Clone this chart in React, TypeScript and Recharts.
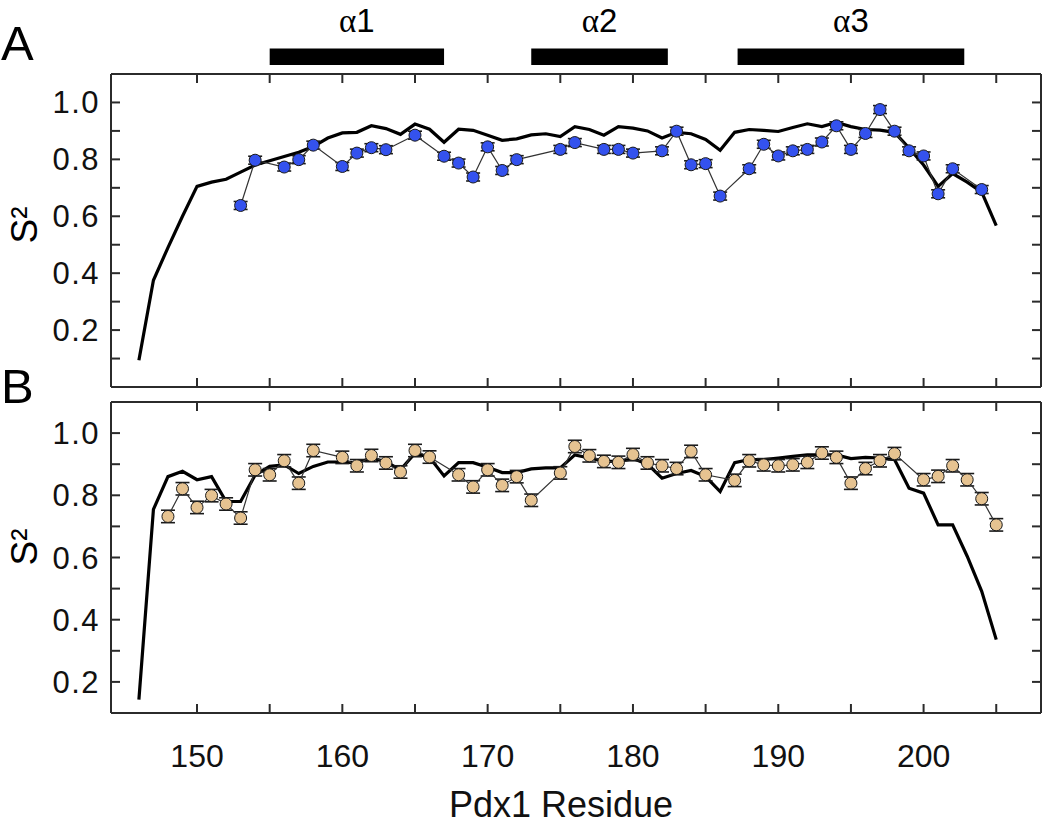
import { ComposedChart, ErrorBar, Line, ReferenceArea, XAxis, YAxis } from 'recharts'

// residues covered by the model curve (both panels)
const modelResidues = [
  146, 147, 148, 149, 150, 151, 152, 153, 154, 155, 156, 157, 158, 159, 160, 161, 162, 163, 164, 165,
  166, 167, 168, 169, 170, 171, 172, 173, 174, 175, 176, 177, 178, 179, 180, 181, 182, 183, 184, 185,
  186, 187, 188, 189, 190, 191, 192, 193, 194, 195, 196, 197, 198, 199, 200, 201, 202, 203, 204, 205,
]

const modelA = [
  0.094, 0.375, 0.49, 0.6, 0.705, 0.72, 0.73, 0.755, 0.78, 0.795, 0.81, 0.825, 0.845, 0.875, 0.893,
  0.895, 0.918, 0.908, 0.888, 0.924, 0.906, 0.86, 0.906, 0.902, 0.885, 0.867, 0.872, 0.886, 0.89, 0.88,
  0.915, 0.905, 0.885, 0.915, 0.91, 0.9, 0.875, 0.895, 0.89, 0.87, 0.832, 0.895, 0.905, 0.902, 0.898,
  0.912, 0.925, 0.915, 0.93, 0.915, 0.905, 0.903, 0.895, 0.84, 0.78, 0.705, 0.75, 0.72, 0.685, 0.567,
]

const modelB = [
  0.143, 0.755, 0.86, 0.877, 0.85, 0.86, 0.78, 0.78, 0.865, 0.893, 0.898, 0.87, 0.893, 0.907, 0.907,
  0.904, 0.92, 0.908, 0.882, 0.935, 0.922, 0.862, 0.905, 0.905, 0.89, 0.873, 0.873, 0.885, 0.888, 0.888,
  0.93, 0.92, 0.91, 0.908, 0.918, 0.9, 0.855, 0.87, 0.88, 0.86, 0.812, 0.905, 0.915, 0.915, 0.92,
  0.925, 0.93, 0.93, 0.93, 0.918, 0.922, 0.92, 0.915, 0.823, 0.807, 0.705, 0.705, 0.604, 0.491, 0.336,
]

// experimental S2 (panel A)
const expResA = [
  153, 154, 156, 157, 158, 160, 161, 162, 163, 165, 167, 168, 169, 170, 171, 172, 175, 176, 178, 179,
  180, 182, 183, 184, 185, 186, 188, 189, 190, 191, 192, 193, 194, 195, 196, 197, 198, 199, 200, 201,
  202, 204,
]
const expA = [
  0.638, 0.797, 0.773, 0.799, 0.85, 0.775, 0.822, 0.841, 0.834, 0.885, 0.811, 0.787, 0.738, 0.844,
  0.761, 0.799, 0.835, 0.859, 0.835, 0.835, 0.822, 0.83, 0.899, 0.781, 0.785, 0.671, 0.767, 0.853,
  0.812, 0.83, 0.835, 0.861, 0.918, 0.835, 0.891, 0.975, 0.899, 0.83, 0.812, 0.679, 0.767, 0.694,
]
const errA = 0.014

// experimental S2 (panel B)
const expResB = [
  148, 149, 150, 151, 152, 153, 154, 155, 156, 157, 158, 160, 161, 162, 163, 164, 165, 166, 168, 169,
  170, 171, 172, 173, 175, 176, 177, 178, 179, 180, 181, 182, 183, 184, 185, 187, 188, 189, 190, 191,
  192, 193, 194, 195, 196, 197, 198, 200, 201, 202, 203, 204, 205,
]
const expB = [
  0.732, 0.821, 0.761, 0.799, 0.772, 0.727, 0.882, 0.866, 0.911, 0.839, 0.944, 0.922, 0.895, 0.928,
  0.904, 0.875, 0.944, 0.923, 0.866, 0.827, 0.882, 0.832, 0.86, 0.784, 0.872, 0.957, 0.927, 0.909,
  0.906, 0.931, 0.904, 0.895, 0.886, 0.941, 0.866, 0.848, 0.911, 0.898, 0.895, 0.898, 0.906, 0.936,
  0.922, 0.839, 0.886, 0.911, 0.934, 0.85, 0.861, 0.895, 0.85, 0.789, 0.705,
]
const errB = 0.02

// helices drawn above panel A
const helixNames = ['1', '2', '3']
const helixStart = [155, 173, 187.2]
const helixEnd = [167, 182.4, 202.8]

const xTicks = [150, 155, 160, 165, 170, 175, 180, 185, 190, 195, 200, 205]
const yTicksA = [0.1, 0.2, 0.3, 0.4, 0.5, 0.6, 0.7, 0.8, 0.9, 1.0]
const yTicksB = [0.2, 0.3, 0.4, 0.5, 0.6, 0.7, 0.8, 0.9, 1.0]

const model = (vals: number[]) => modelResidues.map((r, i) => ({ r, s2: vals[i] }))
const points = (res: number[], vals: number[], err: number) =>
  res.map((r, i) => ({ r, s2: vals[i], err }))

const FONT = '"Liberation Sans", Arial, Helvetica, sans-serif'
const AXIS = '#2b2b2b'
const X_DOMAIN: [number, number] = [144.08, 208.08]

const xLabel = (v: number) => (v % 10 === 0 ? String(v) : '')
const yLabel = (v: number) => {
  const t = Math.round(v * 10)
  return t % 2 === 0 ? (t / 10).toFixed(1) : ''
}

function HelixLabel({ viewBox, name }: any) {
  const { x, y, width } = viewBox
  return (
    <text x={x + width / 2} y={y - 16} textAnchor="middle" fontSize={33} fill="#000">
      <tspan fontFamily='"Liberation Serif", "Times New Roman", serif'>α</tspan>
      <tspan fontFamily={FONT}>{name}</tspan>
    </text>
  )
}

function Frame({ yDomain, yTicks, showX }: { yDomain: [number, number]; yTicks: number[]; showX: boolean }) {
  const line = { stroke: AXIS, strokeWidth: 2 }
  return [
    <XAxis
      key="xb"
      xAxisId="b"
      type="number"
      dataKey="r"
      domain={X_DOMAIN}
      allowDataOverflow
      ticks={xTicks}
      tickSize={-9}
      tickMargin={40}
      tickFormatter={showX ? xLabel : () => ''}
      height={showX ? 50 : 1}
      axisLine={line}
      tickLine={line}
      tick={{ fontSize: 32, fill: '#111', fontFamily: FONT }}
    />,
    <XAxis
      key="xt"
      xAxisId="t"
      orientation="top"
      type="number"
      dataKey="r"
      domain={X_DOMAIN}
      allowDataOverflow
      ticks={xTicks}
      tickSize={-9}
      tickFormatter={() => ''}
      height={1}
      axisLine={line}
      tickLine={line}
    />,
    <YAxis
      key="yl"
      yAxisId="l"
      type="number"
      domain={yDomain}
      allowDataOverflow
      ticks={yTicks}
      tickSize={-9}
      tickMargin={20}
      tickFormatter={yLabel}
      width={100}
      axisLine={line}
      tickLine={line}
      tick={{ fontSize: 31, fill: '#111', fontFamily: FONT, letterSpacing: 1.5 }}
    />,
    <YAxis
      key="yr"
      yAxisId="r"
      orientation="right"
      type="number"
      domain={yDomain}
      allowDataOverflow
      ticks={yTicks}
      tickSize={-9}
      tickFormatter={() => ''}
      width={1}
      axisLine={line}
      tickLine={line}
    />,
  ]
}

function Series({ modelVals, res, vals, err, fill }: { modelVals: number[]; res: number[]; vals: number[]; err: number; fill: string }) {
  return [
    <Line
      key="model"
      xAxisId="b"
      yAxisId="l"
      data={model(modelVals)}
      dataKey="s2"
      type="linear"
      stroke="#000"
      strokeWidth={3.2}
      dot={false}
      isAnimationActive={false}
    />,
    <Line
      key="exp"
      xAxisId="b"
      yAxisId="l"
      data={points(res, vals, err)}
      dataKey="s2"
      type="linear"
      stroke="#333"
      strokeWidth={1.2}
      dot={{ r: 6, fill, stroke: '#1a1a1a', strokeWidth: 1 }}
      isAnimationActive={false}
    >
      <ErrorBar dataKey="err" direction="y" width={7} stroke="#1a1a1a" strokeWidth={1.6} />
    </Line>,
  ]
}

export default function App() {
  return (
    <div style={{ position: 'absolute', left: 0, top: 0, width: 1050, height: 826, background: '#fff' }}>
      <div style={{ position: 'absolute', left: 0, top: 0 }}>
        <ComposedChart width={1050} height={395} margin={{ top: 73, right: 8, bottom: 7, left: 11 }}>
          {Frame({ yDomain: [0, 1.1], yTicks: yTicksA, showX: false })}
          {helixNames.map((name, i) => (
            <ReferenceArea
              key={name}
              xAxisId="b"
              yAxisId="l"
              x1={helixStart[i]}
              x2={helixEnd[i]}
              y1={1.132}
              y2={1.19}
              fill="#000"
              fillOpacity={1}
              stroke="none"
              ifOverflow="visible"
              label={(p: any) => <HelixLabel {...p} name={name} />}
            />
          ))}
          {Series({ modelVals: modelA, res: expResA, vals: expA, err: errA, fill: '#3452ee' })}
        </ComposedChart>
      </div>
      <div style={{ position: 'absolute', left: 0, top: 395 }}>
        <ComposedChart width={1050} height={431} margin={{ top: 6, right: 8, bottom: 63, left: 11 }}>
          {Frame({ yDomain: [0.1, 1.1], yTicks: yTicksB, showX: true })}
          {Series({ modelVals: modelB, res: expResB, vals: expB, err: errB, fill: '#e6c391' })}
        </ComposedChart>
      </div>
      <svg
        width={1050}
        height={826}
        style={{ position: 'absolute', left: 0, top: 0, pointerEvents: 'none' }}
        fontFamily={FONT}
      >
        <text x={1} y={60} fontSize={49} fill="#000">A</text>
        <text x={1} y={403} fontSize={49} fill="#000">B</text>
        <text x={37} y={225} fontSize={37} fill="#000" textAnchor="middle" transform="rotate(-90 37 225)">S²</text>
        <text x={37} y={547} fontSize={37} fill="#000" textAnchor="middle" transform="rotate(-90 37 547)">S²</text>
        <text x={561} y={817} fontSize={36} fill="#111" textAnchor="middle">Pdx1 Residue</text>
      </svg>
    </div>
  )
}
